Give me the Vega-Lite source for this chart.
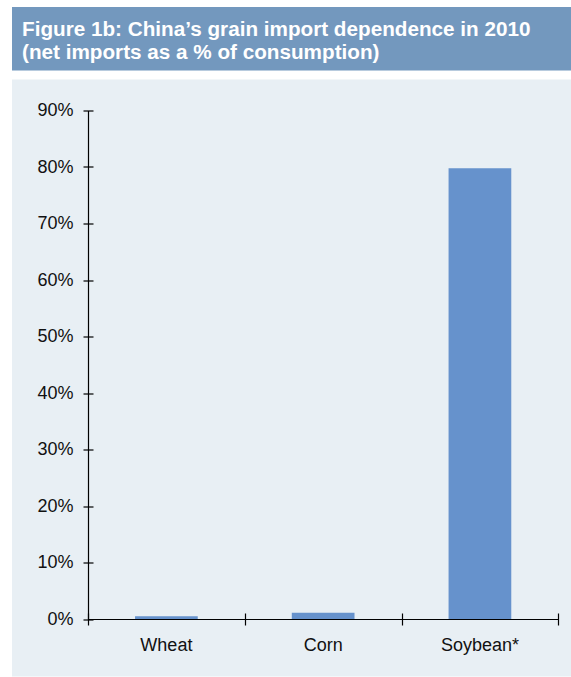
{
  "$schema": "https://vega.github.io/schema/vega-lite/v6.json",
  "padding": {"left": 12, "top": 7, "right": 0, "bottom": 0},
  "background": "white",
  "spacing": 8.5,
  "config": {
    "font": "Liberation Sans",
    "view": {"stroke": null}
  },
  "vconcat": [
    {
      "width": 559,
      "height": 63.5,
      "view": {"fill": "#7398BE", "stroke": null},
      "title": {
        "text": ["Figure 1b: China’s grain import dependence in 2010", "(net imports as a % of consumption)"],
        "anchor": "start",
        "orient": "top",
        "frame": "group",
        "baseline": "top",
        "offset": -56.6,
        "dx": 10,
        "fontSize": 20.7,
        "fontWeight": "bold",
        "color": "#ffffff",
        "lineHeight": 22.5
      },
      "data": {"values": []},
      "mark": "rect"
    },
    {
      "width": 559,
      "height": 597,
      "view": {"fill": "#E8EFF4", "stroke": null},
      "data": {
        "values": [
          {"crop": "Wheat", "share": 0.005},
          {"crop": "Corn", "share": 0.011},
          {"crop": "Soybean*", "share": 0.798}
        ]
      },
      "layer": [
        {
          "mark": {"type": "bar", "color": "#6692CC", "width": {"band": 0.4}},
          "encoding": {
            "x": {
              "field": "crop",
              "type": "nominal",
              "sort": null,
              "scale": {"domain": ["Wheat", "Corn", "Soybean*"], "range": [76, 546.3], "paddingInner": 0, "paddingOuter": 0},
              "axis": {
                "orient": "bottom",
                "offset": -57.5,
                "title": null,
                "labelAngle": 0,
                "ticks": false,
                "domainColor": "#000000",
                "domainWidth": 1.2,
                "labelFontSize": 18,
                "labelColor": "#111111",
                "labelPadding": 17
              }
            },
            "y": {
              "field": "share",
              "type": "quantitative",
              "scale": {"domain": [0, 0.9], "range": [539.5, 31], "nice": false},
              "axis": {
                "orient": "left",
                "offset": -76,
                "title": null,
                "format": ".0%",
                "values": [0, 0.1, 0.2, 0.3, 0.4, 0.5, 0.6, 0.7, 0.8, 0.9],
                "ticks": false,
                "grid": false,
                "domainColor": "#000000",
                "domainWidth": 1.2,
                "labelFontSize": 18,
                "labelColor": "#111111",
                "labelPadding": 15
              }
            }
          }
        },
        {
          "mark": {"type": "bar", "opacity": 0, "width": {"band": 0.4}},
          "encoding": {
            "x": {
              "field": "crop",
              "type": "nominal",
              "sort": null,
              "axis": {
                "orient": "bottom",
                "offset": -63.5,
                "title": null,
                "labels": false,
                "domain": false,
                "tickSize": 12,
                "tickBand": "extent",
                "tickColor": "#000000",
                "tickWidth": 1.2
              }
            },
            "y": {
              "field": "share",
              "type": "quantitative",
              "axis": {
                "orient": "left",
                "offset": -81,
                "title": null,
                "labels": false,
                "domain": false,
                "grid": false,
                "values": [0, 0.1, 0.2, 0.3, 0.4, 0.5, 0.6, 0.7, 0.8, 0.9],
                "tickSize": 10,
                "tickColor": "#000000",
                "tickWidth": 1.2
              }
            }
          }
        }
      ],
      "resolve": {"axis": {"x": "independent", "y": "independent"}}
    }
  ]
}
